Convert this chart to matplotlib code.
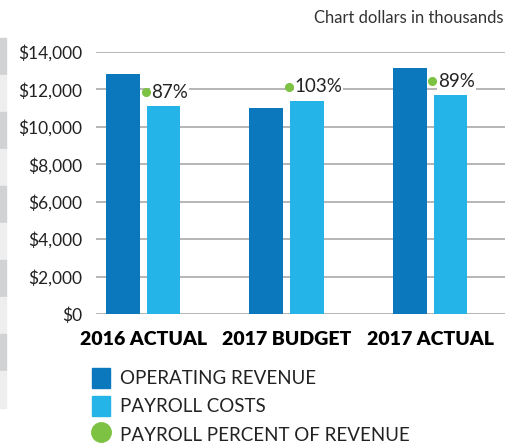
import numpy as np
import matplotlib
matplotlib.use('Agg')
from matplotlib import pyplot as plt
from matplotlib.patches import Rectangle, Patch
from matplotlib.lines import Line2D

# Данные
categories = ['2016 ACTUAL', '2017 BUDGET', '2017 ACTUAL']
revenue = [12800, 11000, 13150]
payroll = [11100, 11400, 11700]
percent = ['87%', '103%', '89%']
y_ticks = [0, 2000, 4000, 6000, 8000, 10000, 12000, 14000]

dark_blue = '#0b77bd'
light_blue = '#25b4e8'
green = '#7dc242'
text_color = '#222222'

plt.rcParams['font.family'] = ['Lato', 'DejaVu Sans']

fig = plt.figure(dpi=100, figsize=(5.06, 4.44))
ax = fig.add_axes([96 / 506, 1 - 314 / 444, 1 - 96 / 506 + 0.02, (314 - 52) / 444])

# Серые полосы слева
for i in range(10):
    y0 = 38 + i * 37
    c = '#d1d2d4' if i % 2 == 0 else '#eeeeee'
    fig.patches.append(Rectangle((0, 1 - (y0 + 37) / 444), 6 / 506, 37 / 444,
                                 transform=fig.transFigure, color=c, zorder=0))

x = np.arange(len(categories))
w = 0.235
off = 0.142
ax.bar(x - off, revenue, w, color=dark_blue, zorder=2)
ax.bar(x + off, payroll, w, color=light_blue, zorder=2)

for xi, p, lab in zip(x, payroll, percent):
    yd = p + 750
    ax.plot(xi + 0.017, yd, 'o', color=green, markersize=5.5, zorder=4)
    ax.annotate(lab, (xi + 0.017, yd), xytext=(4, 0), textcoords='offset points',
                va='center', ha='left', fontsize=13.5, color=text_color, zorder=3,
                bbox=dict(boxstyle='square,pad=0.05', fc='white', ec='none'))

# Оформление
ax.set_ylim(0, 14000)
ax.set_xlim(-0.329, 2.6)
ax.set_yticks(y_ticks)
ax.set_yticklabels(['${:,}'.format(v) for v in y_ticks])
ax.set_xticks(x)
ax.set_xticklabels(categories, fontweight='heavy', fontsize=14)
ax.tick_params(axis='y', length=0, pad=10, labelsize=12.5, labelcolor=text_color)
ax.tick_params(axis='x', length=0, pad=12, labelcolor='black')
ax.grid(axis='y', color='#b5b5b5', linewidth=1.4, zorder=0)
ax.set_axisbelow(True)
for s in ax.spines.values():
    s.set_visible(False)

fig.text(504 / 506, 1 - 18 / 444, 'Chart dollars in thousands', ha='right', va='center',
         fontsize=12, color='#333333')

handles = [Patch(color=dark_blue), Patch(color=light_blue),
           Line2D([], [], marker='o', color=green, linestyle='none', markersize=14)]
labels = ['OPERATING REVENUE', 'PAYROLL COSTS', 'PAYROLL PERCENT OF REVENUE']
fig.legend(handles, labels, loc='upper left', bbox_to_anchor=(84 / 506, 1 - 360 / 444),
           frameon=False, fontsize=13.5, handlelength=1.0, handleheight=1.3,
           handletextpad=0.5, labelspacing=0.42, labelcolor=text_color, borderaxespad=0)

plt.savefig('out.png', dpi=100)
